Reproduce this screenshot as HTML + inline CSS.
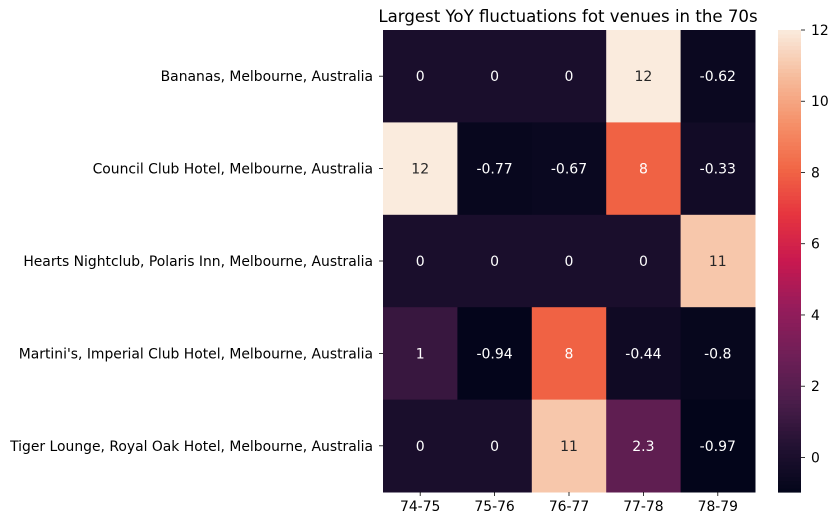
<!DOCTYPE html>
<html><head><meta charset="utf-8">
<style>
body{margin:0;background:#fff;}
svg{display:block;font-family:"DejaVu Sans","Liberation Sans",sans-serif;}
</style></head>
<body>
<svg id="chart" width="838" height="526"></svg>
<script>
const rows = ["Bananas, Melbourne, Australia","Council Club Hotel, Melbourne, Australia","Hearts Nightclub, Polaris Inn, Melbourne, Australia","Martini's, Imperial Club Hotel, Melbourne, Australia","Tiger Lounge, Royal Oak Hotel, Melbourne, Australia"];
const cols = ["74-75","75-76","76-77","77-78","78-79"];
const values = [
  [0,0,0,12,-0.62],
  [12,-0.77,-0.67,8,-0.33],
  [0,0,0,0,11],
  [1,-0.94,8,-0.44,-0.8],
  [0,0,11,2.3,-0.97]
];
const labels = [
  ["0","0","0","12","-0.62"],
  ["12","-0.77","-0.67","8","-0.33"],
  ["0","0","0","0","11"],
  ["1","-0.94","8","-0.44","-0.8"],
  ["0","0","11","2.3","-0.97"]
];
const cbTicks = [0,2,4,6,8,10,12];

const NS="http://www.w3.org/2000/svg";
const svg=document.getElementById('chart');
function el(t,a,txt){const e=document.createElementNS(NS,t);for(const k in a)e.setAttribute(k,a[k]);if(txt!==undefined)e.textContent=txt;svg.appendChild(e);return e;}
const stops=[[3,5,26],[34,17,50],[76,29,75],[112,31,87],[150,28,91],[200,24,80],[229,52,63],[241,102,69],[245,145,106],[246,188,156],[250,235,221]];
const vmin=Math.min(...values.flat()), vmax=Math.max(...values.flat());
function cmap(v){let t=(v-vmin)/(vmax-vmin);t=Math.max(0,Math.min(1,t));const p=t*10,i=Math.min(9,Math.floor(p)),f=p-i;const a=stops[i],b=stops[i+1];return a.map((c,k)=>Math.round(c+(b[k]-c)*f));}
function lum(c){const l=c.map(x=>{x/=255;return x<=0.03928?x/12.92:Math.pow((x+0.055)/1.055,2.4)});return 0.2126*l[0]+0.7152*l[1]+0.0722*l[2];}
const X0=383,X1=755,Y0=30,Y1=492;
const cw=(X1-X0)/cols.length, rh=(Y1-Y0)/rows.length;
const xs=j=>X0+j*cw, ys=i=>Y0+i*rh;

el('text',{x:568,y:22,'text-anchor':'middle','font-size':16.6,fill:'#000',},'Largest YoY fluctuations fot venues in the 70s');

values.forEach((r,i)=>r.forEach((v,j)=>{
  const c=cmap(v);
  const rect=el('rect',{x:xs(j),y:ys(i),width:cw+0.5,height:rh+0.5,fill:`rgb(${c})`});
  
  
  const t=el('text',{x:xs(j)+cw/2,y:ys(i)+rh/2+5,'text-anchor':'middle','font-size':14,fill:lum(c)>0.408?'#262626':'#fff'},labels[i][j]);
  
  
}));

rows.forEach((r,i)=>{
  const y=ys(i)+rh/2;
  el('line',{x1:X0-4,x2:X0,y1:y,y2:y,stroke:'#000','stroke-width':0.8});
  const t=el('text',{x:X0-10,y:y+5,'text-anchor':'end','font-size':13.9,fill:'#000'},r);
  
  
});
cols.forEach((c,j)=>{
  const x=xs(j)+cw/2;
  el('line',{x1:x,x2:x,y1:Y1,y2:Y1+4,stroke:'#000','stroke-width':0.8});
  const t=el('text',{x:x,y:Y1+19,'text-anchor':'middle','font-size':13.9,fill:'#000'},c);
  
  
});

const CX0=778,CX1=801;
const cy=v=>Y1-(v-vmin)/(vmax-vmin)*(Y1-Y0);
const N=120;
for(let k=0;k<N;k++){
  const v0=vmin+(vmax-vmin)*k/N, v1=vmin+(vmax-vmin)*(k+1)/N;
  const c=cmap((v0+v1)/2);
  const r=el('rect',{x:CX0,y:cy(v1),width:CX1-CX0,height:cy(v0)-cy(v1)+0.6,fill:`rgb(${c})`});
  
  
}
cbTicks.forEach(v=>{
  const y=cy(v);
  el('line',{x1:CX1,x2:CX1+4,y1:y,y2:y,stroke:'#000','stroke-width':0.8});
  const t=el('text',{x:CX1+10,y:y+5,'font-size':13.9,fill:'#000'},String(v));
  
  
});
</script>
</body></html>
